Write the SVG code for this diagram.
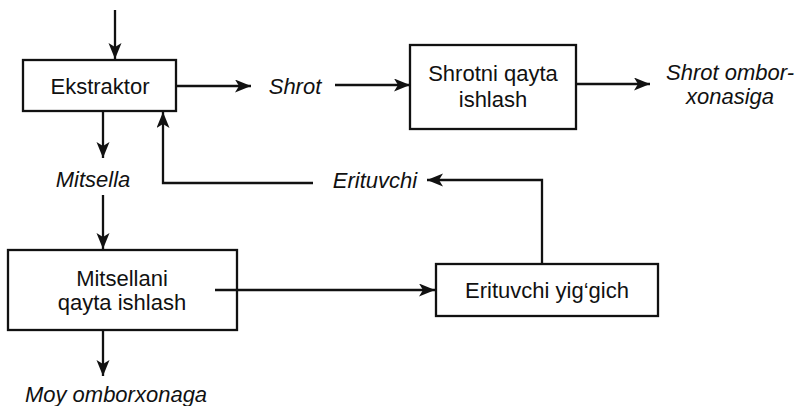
<svg xmlns="http://www.w3.org/2000/svg" width="795" height="406" viewBox="0 0 795 406">
<style>
.box{fill:#fff;stroke:#111;stroke-width:2.3}
.t{font-family:"Liberation Sans",Arial,sans-serif;font-size:22px;fill:#111;text-anchor:middle}
.i{font-style:italic}
.c{fill:none;stroke:#111;stroke-width:2.3}
</style>
<defs>
<marker id="ah" markerUnits="userSpaceOnUse" markerWidth="18" markerHeight="14" refX="16" refY="6.5" orient="auto">
<path d="M0,0 L16,6.5 L0,13 L4,6.5 z" fill="#111"/>
</marker>
</defs>
<g id="ekstraktor">
<rect class="box" x="23" y="60" width="153" height="51"/>
<text class="t" x="100" y="94">Ekstraktor</text>
</g>
<g id="shrot-label">
<text class="t i" x="295" y="94">Shrot</text>
</g>
<g id="shrotni">
<rect class="box" x="410" y="45" width="166" height="84"/>
<text class="t" x="493" y="81">Shrotni qayta</text>
<text class="t" x="493" y="107">ishlash</text>
</g>
<g id="shrot-ombor">
<text class="t i" x="730" y="80">Shrot ombor-</text>
<text class="t i" x="730" y="104">xonasiga</text>
</g>
<g id="mitsella-label">
<text class="t i" x="93" y="187">Mitsella</text>
</g>
<g id="erituvchi-label">
<text class="t i" x="375" y="188">Erituvchi</text>
</g>
<g id="mitsellani">
<rect class="box" x="8" y="250" width="229" height="80"/>
<text class="t" x="122" y="286">Mitsellani</text>
<text class="t" x="122" y="310">qayta ishlash</text>
</g>
<g id="yiggich">
<rect class="box" x="436" y="264" width="222" height="52"/>
<text class="t" x="547" y="298">Erituvchi yig‘gich</text>
</g>
<g id="moy">
<text class="t i" x="116" y="402">Moy omborxonaga</text>
</g>
<g id="connectors">
<line class="c" x1="115" y1="10" x2="115" y2="59" marker-end="url(#ah)"/>
<line class="c" x1="177" y1="86" x2="251" y2="86" marker-end="url(#ah)"/>
<line class="c" x1="335" y1="85" x2="410" y2="85" marker-end="url(#ah)"/>
<line class="c" x1="577" y1="84" x2="650" y2="84" marker-end="url(#ah)"/>
<line class="c" x1="103" y1="112" x2="103" y2="158" marker-end="url(#ah)"/>
<polyline class="c" points="313,183 163,183 163,112" marker-end="url(#ah)"/>
<polyline class="c" points="542,263 542,180 427,180" marker-end="url(#ah)"/>
<line class="c" x1="103" y1="195" x2="103" y2="249" marker-end="url(#ah)"/>
<line class="c" x1="215" y1="290" x2="435" y2="290" marker-end="url(#ah)"/>
<line class="c" x1="103" y1="331" x2="103" y2="376" marker-end="url(#ah)"/>
</g>
</svg>
